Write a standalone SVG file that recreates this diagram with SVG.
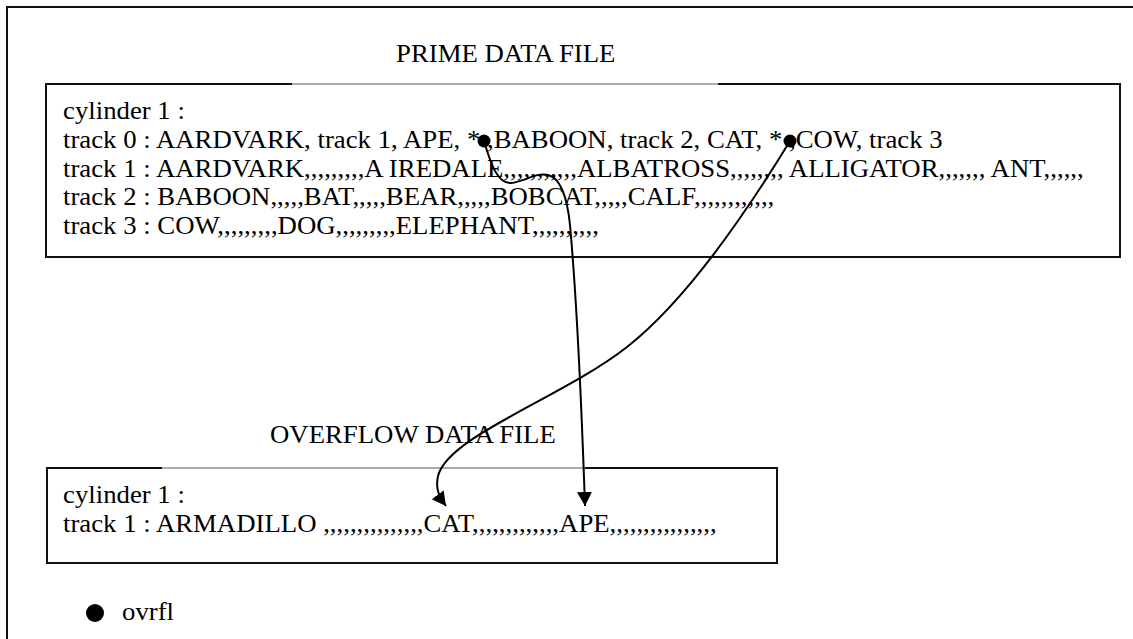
<svg xmlns="http://www.w3.org/2000/svg" width="1133" height="639" viewBox="0 0 1133 639">
  <defs>
    <style>
      .t { font-family: "Liberation Serif", "Times New Roman", serif; font-size: 25px; fill: #000; }
      .frame { fill: none; stroke: #111; stroke-width: 2; }
      .thin { fill: none; stroke: #555; stroke-width: 1; }
      .conn { fill: none; stroke: #000; stroke-width: 2; }
    </style>
    <marker id="arrow" markerUnits="userSpaceOnUse" markerWidth="16" markerHeight="16" refX="14" refY="7.5" orient="auto">
      <path d="M0,0 L14,7.5 L0,15 z" fill="#000"/>
    </marker>
  </defs>

  <rect width="1133" height="639" fill="#fff"/>

  <!-- page frame (runs off the right and bottom edges) -->
  <rect x="7" y="7" width="1140" height="650" class="frame"/>

  <!-- prime data file -->
  <g id="prime">
    <text class="t" transform="translate(396,62) scale(1.071,1)">PRIME DATA FILE</text>
    <path class="frame" d="M292,84 H46 V257 H1120 V84 H718"/>
    <path class="thin" d="M292,84 H718"/>
    <text class="t" transform="translate(63,119) scale(1.071,1)">cylinder 1 :</text>
    <text class="t" transform="translate(63,147.75) scale(1.071,1)">track 0 : AARDVARK, track 1, APE, * ,BABOON, track 2, CAT, * ,COW, track 3</text>
    <text class="t" transform="translate(63,176.5) scale(1.071,1)">track 1 : AARDVARK,,,,,,,,,A IREDALE,,,,,,,,,,,ALBATROSS,,,,,,,, ALLIGATOR,,,,,,, ANT,,,,,,</text>
    <text class="t" transform="translate(63,205.25) scale(1.071,1)">track 2 : BABOON,,,,,BAT,,,,,BEAR,,,,,BOBCAT,,,,,CALF,,,,,,,,,,,,</text>
    <text class="t" transform="translate(63,234) scale(1.071,1)">track 3 : COW,,,,,,,,,DOG,,,,,,,,,ELEPHANT,,,,,,,,,,</text>
  </g>

  <!-- overflow data file -->
  <g id="overflow">
    <text class="t" transform="translate(270,443) scale(1.071,1)">OVERFLOW DATA FILE</text>
    <path class="frame" d="M162,468 H47 V563 H777 V468 H585"/>
    <path class="thin" d="M162,468 H585"/>
    <text class="t" transform="translate(63,503) scale(1.071,1)">cylinder 1 :</text>
    <text class="t" transform="translate(63,532) scale(1.071,1)">track 1 : ARMADILLO ,,,,,,,,,,,,,,,CAT,,,,,,,,,,,,,APE,,,,,,,,,,,,,,,,</text>
  </g>

  <!-- legend -->
  <g id="legend">
    <circle cx="95" cy="613" r="9" fill="#000"/>
    <text class="t" transform="translate(122,620) scale(1.071,1)">ovrfl</text>
  </g>

  <!-- overflow pointers -->
  <g id="connectors">
    <path class="conn" marker-end="url(#arrow)" d="M484,141 C491,165 498,184 511,183 C524,182 536,172 548,175 C560,178 567,195 570,225 C575,280 581,390 585,506"/>
    <path class="conn" marker-end="url(#arrow)" d="M790,141 C757,195 692,296 627,347 C562,398 448,436 438,476 C435,490 440,498 446,506"/>
    <circle cx="484" cy="141" r="6.5" fill="#000"/>
    <circle cx="790" cy="141" r="6.5" fill="#000"/>
  </g>
</svg>
